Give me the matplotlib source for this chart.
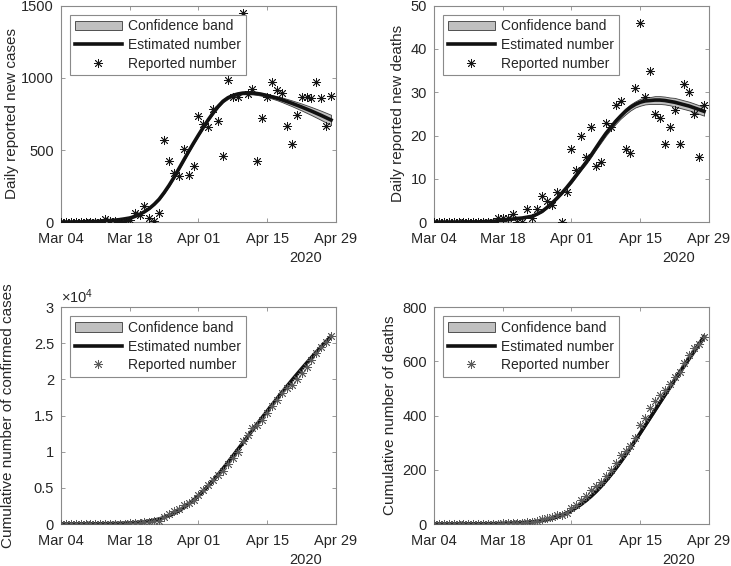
import numpy as np
import matplotlib.pyplot as plt
import matplotlib.dates as mdates
from matplotlib.ticker import FuncFormatter

plt.rcParams['font.family'] = ['Liberation Sans', 'DejaVu Sans']
plt.rcParams['mathtext.default'] = 'regular'

# one value per day, Mar 04 .. Apr 28 2020
days = np.arange(np.datetime64('2020-03-04'), np.datetime64('2020-04-29'))
date_ticks = ['2020-03-04', '2020-03-18', '2020-04-01', '2020-04-15', '2020-04-29']

new_cases = [0, 0, 1, 2, 1, 2, 3, 4, 5, 20, 6, 8, 5, 9, 18,
             66, 50, 115, 28, 11, 62,
             569, 426, 338, 320, 504, 327, 389,
             735, 679, 661, 781, 702, 460, 988,
             868, 868, 1449, 887, 926, 424, 719,
             864, 972, 919, 896, 666, 539, 742,
             868, 868, 861, 972, 857, 666, 873]
est_cases = [1, 2, 2, 3, 3, 4, 5, 6, 8, 10, 12, 15, 19, 24,
             30, 40, 55, 73, 96, 125, 160, 205, 255, 310,
             370, 430, 490, 548, 604, 658, 710, 758, 802, 838,
             862, 878, 888, 894, 896, 895, 891, 885, 877, 868,
             859, 848, 836, 824, 811, 798, 784, 770, 755, 740, 724, 708]
cases_hw = [2, 2, 2, 2, 2, 2, 2, 2, 2, 2, 2, 2, 2, 2, 2, 2, 2, 2, 2, 2,
            5, 5, 5, 5, 5, 5, 5, 5, 5, 5, 5,
            8, 8, 8, 8, 8, 8, 8, 10, 10, 10, 10, 10,
            12, 14, 16, 18, 20, 22, 24, 26, 28, 30, 32, 34, 36]

new_deaths = [0, 0, 0, 0, 0, 0, 0, 0, 0, 0, 0, 0, 0, 1, 1, 1, 2, 0, 0, 3,
              1, 3, 6, 5, 4, 7, 0, 7,
              17, 12, 20, 15, 22, 13, 14,
              23, 22, 27, 28, 17, 16, 31,
              46, 29, 35, 25, 24, 18, 22,
              26, 18, 32, 30, 25, 15, 27]
est_deaths = [0.05, 0.05, 0.05, 0.05, 0.05, 0.05, 0.1, 0.1, 0.1, 0.1,
              0.15, 0.2, 0.25, 0.35, 0.45, 0.6, 0.75, 0.9, 1.0, 1.2,
              1.4, 1.9, 2.5, 3.4, 4.4, 5.5, 6.7, 8.0, 9.4, 10.9,
              12.4, 13.9, 15.5, 17.2, 18.9, 20.5, 21.9, 23.3, 24.5, 25.6,
              26.5, 27.2, 27.7, 28.0, 28.1, 28.2, 28.2, 28.1, 27.9, 27.7,
              27.4, 27.1, 26.8, 26.4, 26.0, 25.6]
deaths_hw = [0.1] * 26 + [0.2, 0.2, 0.3, 0.3, 0.3, 0.4, 0.4, 0.4, 0.5, 0.5,
                          0.5, 0.6, 0.6, 0.7, 0.7, 0.7, 0.8, 0.8, 0.8, 0.9,
                          0.9, 0.9, 0.9, 1.0, 1.0, 1.0, 1.0, 1.0, 1.0, 1.0]

cum_cases_hw = [0] * 21 + [5, 5, 10, 10, 10, 15, 15, 20, 20, 20,
                           25, 25, 30, 30, 35, 35, 40, 40, 45, 50,
                           55, 60, 65, 70, 80, 90, 100, 110, 120, 130,
                           140, 150, 160, 170, 180]
cum_deaths_hw = [0] * 26 + [0.5, 0.5, 1, 1, 1, 1.5, 1.5, 2, 2, 2,
                            2.5, 2.5, 3, 3, 3.5, 3.5, 4, 4, 4.5, 5,
                            5, 5.5, 6, 6, 6.5, 7, 7, 7.5, 8, 8]

BAND = '#c0c0c0'
AXC = '#8a8a8a'
TXT = '#262626'


def panel(ax, est, hw, reported, ylim, yticks, ylabel, label_x, mcolor):
    est = np.asarray(est, dtype=float)
    hw = np.asarray(hw, dtype=float)
    ax.fill_between(days, est - hw, est + hw, facecolor=BAND,
                    edgecolor='#3a3a3a', lw=0.6, label='Confidence band', zorder=2)
    ax.plot(days, est, color='#111111', lw=2.6, label='Estimated number', zorder=3)
    ax.plot(days, reported, ls='none', marker=(8, 2, 0), ms=6.5, mew=0.6,
            color=mcolor, label='Reported number', zorder=4)

    ax.set_xlim(np.datetime64('2020-03-04'), np.datetime64('2020-04-29'))
    ax.set_xticks([np.datetime64(d) for d in date_ticks])
    ax.xaxis.set_major_formatter(mdates.DateFormatter('%b %d'))
    ax.set_ylim(*ylim)
    ax.set_yticks(yticks)

    for s in ax.spines.values():
        s.set_color(AXC)
        s.set_linewidth(0.8)
    ax.tick_params(direction='in', length=3, width=0.6, color=AXC,
                   top=True, right=True, labelsize=10.5, labelcolor=TXT)
    ax.tick_params(axis='x', pad=7)
    ax.tick_params(axis='y', pad=5)

    ax.set_ylabel(ylabel, fontsize=11, color=TXT)
    ax.yaxis.set_label_coords(label_x, 0.5)
    ax.annotate('2020', xy=(0.891, 0), xycoords='axes fraction',
                xytext=(0, -26), textcoords='offset points',
                ha='center', va='center', fontsize=10.5, color=TXT)

    leg = ax.legend(loc='upper left', fontsize=10, handlelength=3.4,
                    numpoints=1, fancybox=False, framealpha=1,
                    edgecolor=AXC, borderpad=0.35, labelspacing=0.33,
                    handletextpad=0.45, borderaxespad=0.65)
    leg.get_frame().set_linewidth(0.8)
    for t in leg.get_texts():
        t.set_color(TXT)


fig = plt.figure(figsize=(7.31, 5.66), dpi=100)
W, H = 0.3762, 0.383
ax1 = fig.add_axes([0.0834, 0.6072, W, H])
ax2 = fig.add_axes([0.5937, 0.6072, W, H])
ax3 = fig.add_axes([0.0834, 0.0742, W, H])
ax4 = fig.add_axes([0.5937, 0.0742, W, H])

panel(ax1, est_cases, cases_hw, new_cases, (0, 1500), [0, 500, 1000, 1500],
      'Daily reported new cases', -0.153, '#151515')
panel(ax2, est_deaths, deaths_hw, new_deaths, (0, 50), [0, 10, 20, 30, 40, 50],
      'Daily reported new deaths', -0.105, '#151515')

panel(ax3, np.cumsum(est_cases), cum_cases_hw, np.cumsum(new_cases),
      (0, 30000), np.arange(0, 30001, 5000),
      'Cumulative number of confirmed cases', -0.167, '#5a5a5a')
ax3.yaxis.set_major_formatter(FuncFormatter(lambda v, p: '%g' % (v / 1e4)))
ax3.text(0.0, 1.005, r'$\times10^4$', transform=ax3.transAxes,
         ha='left', va='bottom', fontsize=10.5, color=TXT)

panel(ax4, np.cumsum(est_deaths), cum_deaths_hw, np.cumsum(new_deaths),
      (0, 800), [0, 200, 400, 600, 800],
      'Cumulative number of deaths', -0.135, '#5a5a5a')

fig.savefig('out.png', dpi=100)
